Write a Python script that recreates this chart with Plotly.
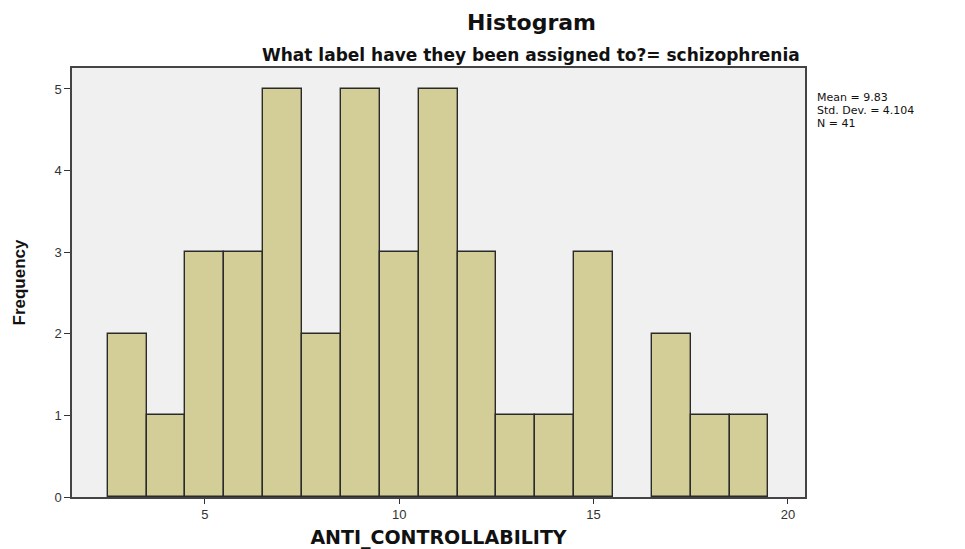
import plotly.graph_objects as go

# bin centres and counts for ANTI_CONTROLLABILITY (schizophrenia group)
bin_centers = [3, 4, 5, 6, 7, 8, 9, 10, 11, 12, 13, 14, 15, 16, 17, 18, 19]
frequency = [2, 1, 3, 3, 5, 2, 5, 3, 5, 3, 1, 1, 3, 0, 2, 1, 1]
x_ticks = [5, 10, 15, 20]
y_ticks = [0, 1, 2, 3, 4, 5]
stats_lines = ["Mean = 9.83", "Std. Dev. = 4.104", "N = 41"]

# the page body adds an 8px offset, so the figure is laid out 8px smaller
OFF = 8
FW, FH = 965 - OFF, 549 - OFF
# plot box in figure pixels
L, R, T, B = 72 - OFF, 805 - OFF, 68 - OFF, 497 - OFF
W, H = R - L, B - T

fig = go.Figure()

fig.add_trace(go.Bar(
    x=bin_centers,
    y=frequency,
    width=1,
    marker=dict(color='#d3cd98',
                line=dict(color='#2a2a2a', width=[1.4 if f > 0 else 0 for f in frequency])),
    hoverinfo='x+y',
    showlegend=False
))

fig.update_layout(
    width=FW,
    height=FH,
    margin=dict(l=L, r=FW - R, t=T, b=FH - B, autoexpand=False),
    paper_bgcolor='white',
    plot_bgcolor='#f0f0f0',
    bargap=0,
    font=dict(family="Liberation Sans, Arial, sans-serif", size=12, color='#333'),
    xaxis=dict(
        range=[1.58, 20.44],
        tickvals=x_ticks,
        ticks='outside', ticklen=5, tickcolor='#333',
        showgrid=False, zeroline=False, automargin=False,
        showline=True, linecolor='#444', linewidth=1.5, mirror=True,
        tickfont=dict(size=13, color='#333'),
        title=dict(text='<b>ANTI_CONTROLLABILITY</b>',
                   font=dict(family="DejaVu Sans, sans-serif", size=19, color='#111'),
                   standoff=10),
    ),
    yaxis=dict(
        range=[0, 5.257],
        tickvals=y_ticks,
        ticks='outside', ticklen=6, tickcolor='#333',
        showgrid=False, zeroline=False, automargin=False,
        showline=True, linecolor='#444', linewidth=1.5, mirror=True,
        tickfont=dict(size=13, color='#333'),
        title=dict(text='<b>Frequency</b>',
                   font=dict(family="Liberation Sans Narrow, Liberation Sans, sans-serif", size=17, color='#111'),
                   standoff=24),
    ),
)

fig.add_annotation(
    text='<b>Histogram</b>', xref='paper', yref='paper',
    x=(531 - OFF - L) / W, y=1 + (T - (22 - OFF)) / H, xanchor='center', yanchor='middle',
    showarrow=False, font=dict(family="DejaVu Sans, sans-serif", size=22, color='#111')
)
fig.add_annotation(
    text='<b>What label have they been assigned to?= schizophrenia</b>', xref='paper', yref='paper',
    x=(531 - OFF - L) / W, y=1 + (T - (55 - OFF)) / H, xanchor='center', yanchor='middle',
    showarrow=False, font=dict(family="DejaVu Sans, sans-serif", size=17, color='#111')
)
for i, line in enumerate(stats_lines):
    fig.add_annotation(
        text=line, xref='paper', yref='paper',
        x=1 + (816 - OFF - R) / W, y=1 - (97 - OFF + 13 * i - T) / H,
        xanchor='left', yanchor='middle', align='left', borderpad=0,
        showarrow=False, font=dict(family="DejaVu Sans, sans-serif", size=11, color='#111')
    )

fig.write_html("out.html")
